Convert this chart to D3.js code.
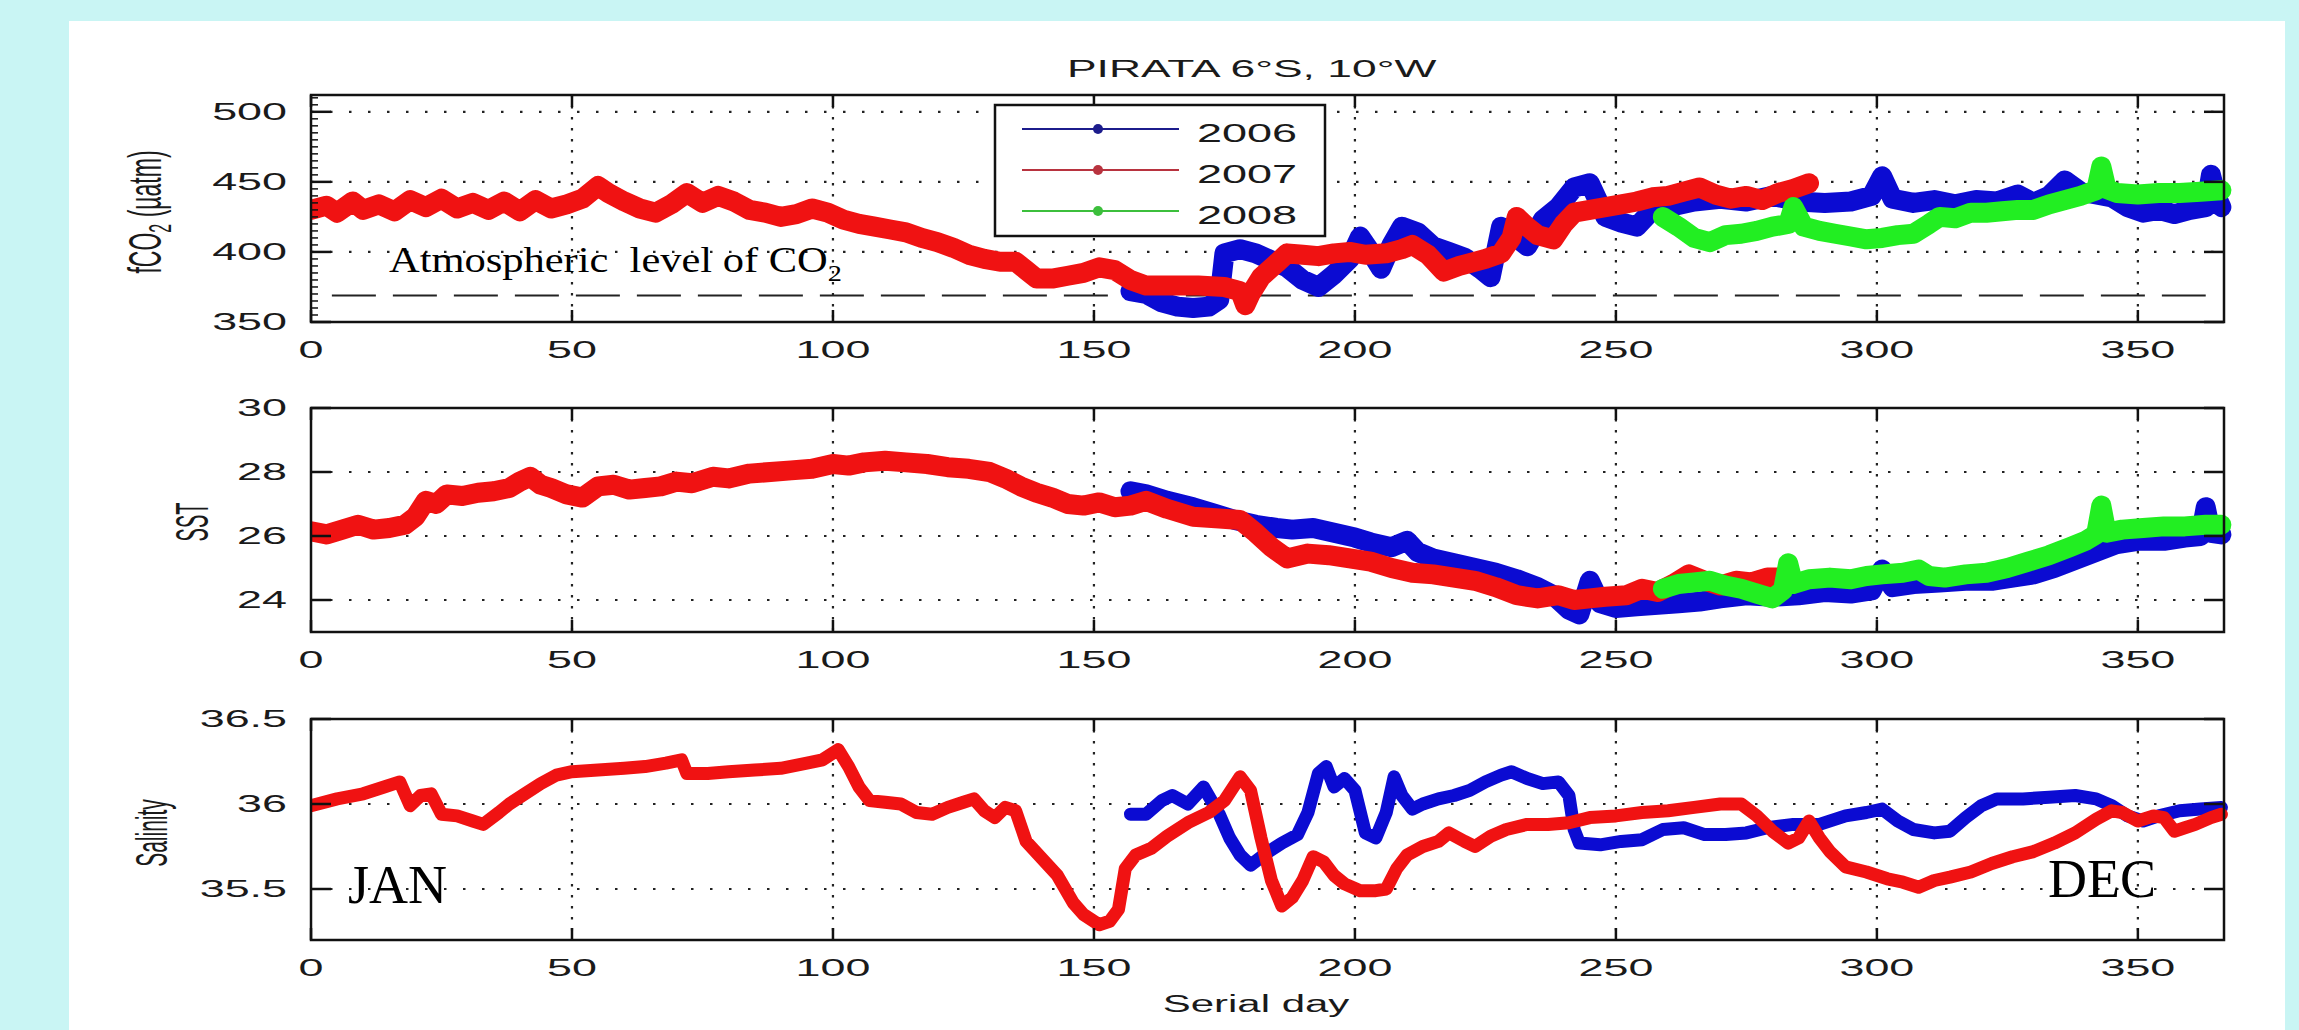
<!DOCTYPE html>
<html>
<head>
<meta charset="utf-8">
<script src="https://cdn.jsdelivr.net/npm/d3@7"></script>
<style>
  body { margin:0; background:#c9f5f4; }
  svg { display:block; }
  text { font-family:"Liberation Sans", Arial, sans-serif; fill:#1a1a1a; }
  text.serif { font-family:"Liberation Serif", "Times New Roman", serif; fill:#000; }
</style>
</head>
<body>
<script>
// ---- data ----
var dayTicks = [0,50,100,150,200,250,300,350];
var co2Ticks = [350,400,450,500];
var sstTicks = [24,26,28,30];
var salTicks = [35.5,36,36.5];
var years = ["2006","2007","2008"];
var atmCO2 = 369, atmDays = [4,363];

// fCO2 (uatm), [serial day, value]
var co2_2006 = [[157,372],[160,370],[163,364],[166,361],[169,360],[172,361],[174,366],[175,399],[178,402],[181,399],[184,394],[187,389],[190,380],[193,375],[196,384],[199,395],[201,411],[203,400],[205,388],[207,405],[209,418],[212,414],[215,404],[218,400],[221,396],[224,388],[226,382],[228,418],[231,410],[233,404],[236,423],[239,432],[242,446],[245,449],[248,425],[251,421],[254,418],[257,430],[260,432],[265,436],[270,438],[275,436],[280,440],[285,436],[290,435],[295,436],[299,440],[301,454],[303,438],[307,435],[311,437],[315,434],[319,437],[323,436],[327,441],[330,435],[333,440],[336,451],[339,443],[342,441],[345,439],[348,432],[351,428],[354,430],[357,427],[360,430],[363,432],[364,455],[365,440],[366,432]];
var co2_2007 = [[0,430],[3,433],[5,428],[8,436],[10,430],[13,434],[16,429],[19,437],[22,432],[25,438],[28,431],[31,435],[34,430],[37,436],[40,429],[43,437],[46,431],[49,434],[52,438],[55,447],[57,442],[60,436],[63,431],[66,428],[69,434],[72,442],[75,435],[78,440],[81,436],[84,430],[87,428],[90,425],[93,427],[96,431],[99,428],[102,423],[105,420],[108,418],[111,416],[114,414],[117,410],[120,407],[123,403],[126,398],[129,395],[132,393],[135,393],[137,387],[139,381],[142,381],[145,383],[148,385],[151,389],[154,387],[157,380],[160,376],[165,376],[170,376],[175,375],[178,372],[179,362],[180,370],[182,382],[185,392],[187,399],[190,398],[193,397],[196,399],[199,400],[202,398],[206,399],[209,402],[211,405],[214,398],[217,386],[220,390],[222,392],[225,395],[228,399],[230,410],[231,425],[233,418],[235,412],[238,409],[240,420],[242,428],[245,430],[248,432],[251,434],[254,436],[257,439],[260,440],[263,443],[266,446],[269,441],[272,438],[275,440],[278,437],[281,442],[284,445],[287,449]];
var co2_2008 = [[259,425],[262,418],[265,410],[268,407],[271,412],[274,413],[277,415],[280,418],[283,420],[284,432],[286,418],[289,415],[292,413],[295,411],[298,409],[301,410],[304,412],[307,413],[310,420],[312,425],[315,424],[318,428],[321,428],[324,429],[327,430],[330,430],[333,434],[336,437],[339,440],[342,444],[343,461],[344,445],[346,442],[350,441],[354,442],[358,442],[362,443],[366,444]];

// SST (deg C)
var sst_2006 = [[157,27.4],[160,27.3],[164,27.1],[169,26.9],[173,26.7],[177,26.5],[181,26.35],[185,26.25],[188,26.2],[192,26.25],[196,26.1],[200,25.95],[203,25.8],[207,25.65],[210,25.85],[212,25.5],[215,25.3],[219,25.15],[223,25.0],[227,24.85],[231,24.65],[235,24.4],[238,24.15],[241,23.7],[243,23.55],[245,24.6],[247,23.9],[250,23.75],[254,23.8],[258,23.85],[262,23.9],[266,23.95],[270,24.05],[275,24.15],[280,24.1],[285,24.15],[290,24.25],[295,24.2],[299,24.3],[301,24.95],[303,24.4],[307,24.5],[312,24.55],[317,24.6],[322,24.6],[326,24.7],[330,24.8],[334,25.0],[338,25.25],[342,25.5],[346,25.75],[350,25.85],[355,25.85],[359,25.95],[362,26.0],[363,26.9],[364,26.1],[366,26.05]];
var sst_2007 = [[0,26.15],[3,26.05],[6,26.2],[9,26.35],[12,26.2],[15,26.25],[18,26.35],[20,26.6],[22,27.1],[24,27.0],[26,27.3],[29,27.25],[32,27.35],[35,27.4],[38,27.5],[40,27.7],[42,27.85],[44,27.6],[46,27.5],[49,27.3],[52,27.2],[55,27.55],[58,27.6],[61,27.45],[64,27.5],[67,27.55],[70,27.7],[73,27.65],[77,27.85],[80,27.8],[84,27.95],[88,28.0],[92,28.05],[96,28.1],[100,28.25],[103,28.2],[106,28.3],[110,28.35],[114,28.3],[118,28.25],[122,28.15],[126,28.1],[130,28.0],[133,27.8],[136,27.55],[139,27.35],[142,27.2],[145,27.0],[148,26.95],[151,27.05],[154,26.9],[157,26.95],[160,27.1],[164,26.85],[169,26.6],[174,26.55],[178,26.5],[181,26.1],[184,25.65],[187,25.3],[191,25.45],[195,25.4],[199,25.3],[203,25.2],[207,25.0],[211,24.85],[215,24.8],[219,24.7],[223,24.6],[227,24.4],[231,24.15],[235,24.05],[239,24.15],[242,24.0],[245,24.05],[248,24.1],[252,24.15],[255,24.35],[258,24.25],[261,24.5],[264,24.8],[267,24.6],[270,24.45],[273,24.6],[276,24.55],[279,24.7],[282,24.7]];
var sst_2008 = [[259,24.35],[262,24.5],[265,24.55],[268,24.6],[271,24.45],[274,24.35],[277,24.2],[280,24.05],[282,24.3],[283,25.15],[284,24.5],[287,24.65],[291,24.7],[295,24.65],[298,24.75],[301,24.8],[305,24.85],[308,24.95],[310,24.75],[313,24.7],[317,24.8],[321,24.85],[325,25.0],[329,25.2],[333,25.4],[337,25.65],[340,25.85],[342,26.05],[343,26.95],[344,26.1],[347,26.2],[351,26.25],[355,26.3],[359,26.3],[363,26.35],[366,26.35]];

// Salinity
var sal_2006 = [[157,35.94],[160,35.94],[163,36.02],[165,36.05],[168,36.0],[171,36.1],[174,35.94],[176,35.8],[178,35.7],[180,35.64],[183,35.71],[186,35.77],[189,35.82],[191,35.95],[193,36.18],[194.5,36.22],[196,36.1],[198,36.15],[200,36.08],[202,35.83],[204,35.8],[206,35.95],[207.5,36.16],[209,36.05],[211,35.97],[213,36.0],[216,36.03],[219,36.05],[222,36.08],[225,36.13],[228,36.17],[230,36.19],[233,36.15],[236,36.12],[239,36.13],[241,36.05],[242,35.85],[243,35.77],[247,35.76],[251,35.78],[255,35.79],[259,35.85],[263,35.86],[267,35.82],[271,35.82],[275,35.83],[279,35.86],[284,35.88],[289,35.88],[294,35.93],[298,35.95],[301,35.97],[304,35.9],[307,35.85],[311,35.83],[314,35.84],[317,35.92],[320,35.99],[323,36.03],[328,36.03],[333,36.04],[338,36.05],[342,36.03],[345,35.99],[348,35.93],[351,35.9],[354,35.93],[358,35.96],[362,35.97],[366,35.98]];
var sal_2007 = [[0,35.99],[5,36.03],[10,36.06],[14,36.1],[17,36.13],[19,35.99],[21,36.05],[23,36.06],[25,35.94],[28,35.93],[31,35.9],[33,35.88],[36,35.95],[38,36.0],[41,36.06],[44,36.12],[47,36.17],[50,36.19],[55,36.2],[60,36.21],[64,36.22],[68,36.24],[71,36.26],[72,36.18],[76,36.18],[80,36.19],[85,36.2],[90,36.21],[95,36.24],[98,36.26],[101,36.32],[103,36.22],[105,36.1],[107,36.02],[110,36.01],[113,36.0],[116,35.95],[119,35.94],[122,35.98],[125,36.01],[127,36.03],[129,35.96],[131,35.92],[133,35.98],[135,35.96],[137,35.78],[140,35.68],[143,35.58],[146,35.42],[148,35.35],[151,35.29],[153,35.31],[154.7,35.38],[156,35.62],[158,35.7],[161,35.74],[164,35.81],[168,35.89],[172,35.95],[175,36.02],[178,36.16],[180,36.08],[182,35.8],[184,35.55],[186,35.4],[188,35.45],[190,35.55],[192,35.69],[194,35.66],[196,35.58],[198,35.53],[201,35.49],[204,35.49],[206,35.5],[208,35.62],[210,35.7],[213,35.75],[216,35.78],[218,35.83],[221,35.78],[223,35.75],[226,35.81],[229,35.85],[233,35.88],[237,35.88],[241,35.89],[245,35.92],[250,35.93],[255,35.95],[260,35.96],[265,35.98],[270,36.0],[274,36.0],[277,35.93],[280,35.84],[283,35.77],[285,35.8],[287,35.9],[289,35.8],[291,35.72],[294,35.63],[298,35.6],[302,35.56],[305,35.54],[308,35.51],[311,35.55],[314,35.57],[318,35.6],[322,35.65],[326,35.69],[330,35.72],[334,35.77],[338,35.83],[342,35.91],[345,35.96],[347,35.95],[350,35.9],[353,35.93],[355,35.92],[357,35.84],[359,35.86],[361,35.88],[364,35.92],[366,35.94]];

// ---- drawing ----
var colors = {"2006":"#0b0bd2", "2007":"#f01212", "2008":"#22ee22"};
var legendColors = {"2006":"#1c1c8c", "2007":"#b8333f", "2008":"#3cbf3c"};
var SX = 1.95;   // the original figure was stretched sideways

var svg = d3.select("body").append("svg").attr("width",2299).attr("height",1030);
svg.append("rect").attr("x",69).attr("y",21).attr("width",2216).attr("height",1009).attr("fill","#fff");

var x = d3.scaleLinear().domain([0,366.5]).range([311,2224]);

function stext(g, px, py, str, anchor, size, sx) {
  return g.append("text")
    .attr("transform","translate("+px+","+py+") scale("+sx+",1)")
    .attr("text-anchor",anchor).style("font-size",size+"px").text(str);
}

var panels = [
  {top:95,  bottom:322, domain:[350,512],  ticks:co2Ticks, fmt:String, lw:20,
   series:[["2006",co2_2006],["2007",co2_2007],["2008",co2_2008]]},
  {top:408, bottom:632, domain:[23,30],    ticks:sstTicks, fmt:String, lw:20,
   series:[["2006",sst_2006],["2007",sst_2007],["2008",sst_2008]]},
  {top:719, bottom:940, domain:[35.2,36.5], ticks:salTicks, fmt:String, lw:13,
   series:[["2006",sal_2006],["2007",sal_2007]]}
];

panels.forEach(function(p, i){
  var y = d3.scaleLinear().domain(p.domain).range([p.bottom,p.top]);
  var g = svg.append("g");
  var x0 = x.range()[0], x1 = x.range()[1];

  g.append("clipPath").attr("id","clip"+i).append("rect")
    .attr("x",x0).attr("y",p.top-20).attr("width",x1-x0+10).attr("height",p.bottom-p.top+20);

  // dotted grid
  g.selectAll(".hg").data(p.ticks.filter(function(t){ return y(t) > p.top+2 && y(t) < p.bottom-2; }))
    .enter().append("line")
      .attr("x1",x0).attr("x2",x1).attr("y1",y).attr("y2",y)
      .attr("stroke","#222").attr("stroke-width",2.2).attr("stroke-dasharray","2.5,16.5");
  g.selectAll(".vg").data(dayTicks.slice(1))
    .enter().append("line")
      .attr("x1",x).attr("x2",x).attr("y1",p.top).attr("y2",p.bottom)
      .attr("stroke","#222").attr("stroke-width",2.2).attr("stroke-dasharray","2.5,8.5");

  if (i === 0) {
    g.append("line")
      .attr("x1",x(atmDays[0])).attr("x2",x(atmDays[1]))
      .attr("y1",y(atmCO2)).attr("y2",y(atmCO2))
      .attr("stroke","#222").attr("stroke-width",2).attr("stroke-dasharray","44,17");
  }

  var line = d3.line().x(function(d){ return x(d[0]); }).y(function(d){ return y(d[1]); });
  g.append("g").attr("clip-path","url(#clip"+i+")")
    .selectAll("path").data(p.series).enter().append("path")
      .attr("d",function(s){ return line(s[1]); })
      .attr("fill","none").attr("stroke",function(s){ return colors[s[0]]; })
      .attr("stroke-width",p.lw).attr("stroke-linejoin","round").attr("stroke-linecap","round");

  // box and ticks
  g.append("rect").attr("x",x0).attr("y",p.top).attr("width",x1-x0).attr("height",p.bottom-p.top)
    .attr("fill","none").attr("stroke","#111").attr("stroke-width",2.5);
  dayTicks.forEach(function(t){
    g.append("line").attr("x1",x(t)).attr("x2",x(t)).attr("y1",p.bottom).attr("y2",p.bottom-12)
      .attr("stroke","#111").attr("stroke-width",2.5);
    g.append("line").attr("x1",x(t)).attr("x2",x(t)).attr("y1",p.top).attr("y2",p.top+12)
      .attr("stroke","#111").attr("stroke-width",2.5);
    stext(g, x(t), p.bottom+36, String(t), "middle", 23, SX);
  });
  p.ticks.forEach(function(t){
    g.append("line").attr("x1",x0).attr("x2",x0+20).attr("y1",y(t)).attr("y2",y(t))
      .attr("stroke","#111").attr("stroke-width",2.5);
    g.append("line").attr("x1",x1-20).attr("x2",x1).attr("y1",y(t)).attr("y2",y(t))
      .attr("stroke","#111").attr("stroke-width",2.5);
    stext(g, 287, y(t)+8, p.fmt(t), "end", 23, SX);
  });
  if (i === 0) {
    d3.range(350,512,5).forEach(function(t){
      g.append("line").attr("x1",x0).attr("x2",x0+7).attr("y1",y(t)).attr("y2",y(t))
        .attr("stroke","#111").attr("stroke-width",1.5);
    });
  }
});

// axis labels
var yl = svg.append("text").attr("transform","translate(161,212) scale(2.0,1) rotate(-90)")
  .attr("text-anchor","middle").style("font-size","23px");
yl.append("tspan").text("fCO");
yl.append("tspan").attr("dy",5).style("font-size","16px").text("2");
yl.append("tspan").attr("dy",-5).text(" (µatm)");
svg.append("text").attr("transform","translate(208,522) scale(2.3,1) rotate(-90)")
  .attr("text-anchor","middle").style("font-size","20px").text("SST");
svg.append("text").attr("transform","translate(167,833) scale(2.1,1) rotate(-90)")
  .attr("text-anchor","middle").style("font-size","21px").text("Salinity");
stext(svg, 1256, 1012, "Serial day", "middle", 24, 1.75);

// title
stext(svg, 1067, 77, "PIRATA 6°S, 10°W", "start", 24, 1.85);

// legend
var lg = svg.append("g");
lg.append("rect").attr("x",995).attr("y",105).attr("width",330).attr("height",131)
  .attr("fill","#fff").attr("stroke","#111").attr("stroke-width",2.5);
years.forEach(function(yr, k){
  var ly = 129 + k*41;
  lg.append("line").attr("x1",1022).attr("x2",1179).attr("y1",ly).attr("y2",ly)
    .attr("stroke",legendColors[yr]).attr("stroke-width",2);
  lg.append("circle").attr("cx",1098).attr("cy",ly).attr("r",5).attr("fill",legendColors[yr]);
  stext(lg, 1197, ly+13, yr, "start", 25, 1.8);
});

// annotations
var at = svg.append("text").attr("class","serif").style("white-space","pre")
  .attr("transform","translate(389,272) scale(1.18,1)").style("font-size","36px");
at.append("tspan").text("Atmospheric  level of CO");
at.append("tspan").attr("dy",9).style("font-size","24px").text("2");
svg.append("text").attr("class","serif").attr("x",348).attr("y",903).style("font-size","54px").text("JAN");
svg.append("text").attr("class","serif").attr("x",2048).attr("y",897).style("font-size","54px").text("DEC");
</script>
</body>
</html>
